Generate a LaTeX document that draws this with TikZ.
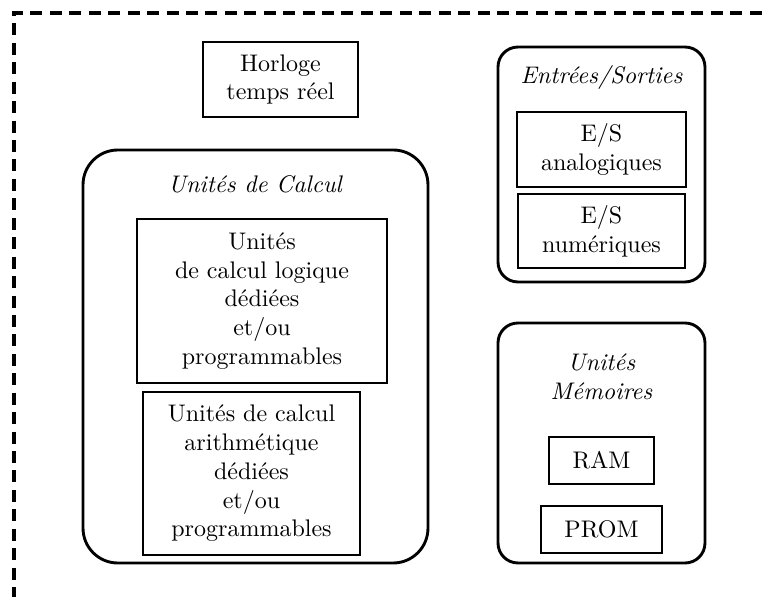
\documentclass[tikz,border=0pt]{standalone}
\begin{document}
\begin{tikzpicture}[x=0.4167pt,y=-0.4167pt,
  box/.style={draw,line width=0.8pt,inner sep=0pt,align=center,rectangle},
  group/.style={draw,line width=1.2pt,inner sep=0pt,rectangle},
  ttl/.style={inner sep=0pt,align=center,font=\itshape}]
\useasboundingbox (0,0) rectangle (765,597);
\clip (0,0) rectangle (765,597);
\coordinate (fa) at (14,640);
\coordinate (fb) at (14,13);
\coordinate (fc) at (820,13);
\draw[line width=1.3pt,dash pattern=on 5pt off 3.1pt,line join=miter] (fc) -- (fb) -- (fa);
% Horloge
\node[box,minimum width=64.6pt,minimum height=31.25pt] (horl) at (280.5,79.5) {Horloge\\temps réel};
% Unites de calcul
\node[group,rounded corners=14.5pt,minimum width=143.75pt,minimum height=172.1pt] (calc) at (255.5,356.5) {};
\node[ttl] (calct) at (255,184) {Unités de Calcul};
\node[box,minimum width=104.2pt,minimum height=68.3pt] (logi) at (262,301) {Unités\\de calcul logique\\dédiées\\et/ou\\programmables};
\node[box,minimum width=90.4pt,minimum height=67.9pt] (arit) at (251.5,473.5) {Unités de calcul\\arithmétique\\dédiées\\et/ou\\programmables};
% Entrees/Sorties
\node[group,rounded corners=8.3pt,minimum width=86.25pt,minimum height=97.9pt] (es) at (601.5,164.5) {};
\node[ttl] (est) at (601.5,78) {Entrées/Sorties};
\node[box,minimum width=70.4pt,minimum height=31.25pt] (ana) at (601.5,149.5) {E/S\\analogiques};
\node[box,minimum width=69.6pt,minimum height=30.8pt] (num) at (601.5,231) {E/S\\numériques};
% Memoires
\node[group,rounded corners=8.3pt,minimum width=86.25pt,minimum height=100pt] (mem) at (601.5,443) {};
\node[ttl] (memt) at (601.5,377) {Unités\\Mémoires};
\node[box,minimum width=43.75pt,minimum height=19.6pt] (ram) at (601.5,460.5) {RAM};
\node[box,minimum width=50.4pt,minimum height=19.6pt] (prom) at (601.5,529.5) {PROM};
\end{tikzpicture}
\end{document}
